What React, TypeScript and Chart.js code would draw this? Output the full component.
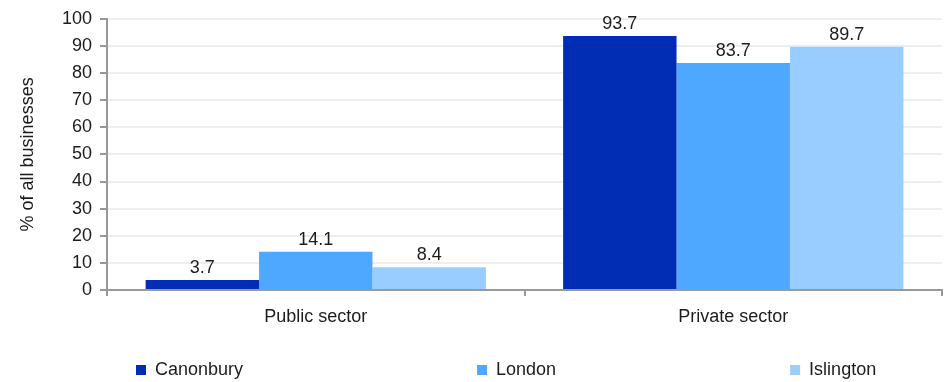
import React, { useEffect, useRef } from "react";
import { Chart, registerables } from "chart.js";

Chart.register(...registerables);

const categories = ["Public sector", "Private sector"];
const seriesNames = ["Canonbury", "London", "Islington"];
const canonbury = [3.7, 93.7];
const london = [14.1, 83.7];
const islington = [8.4, 89.7];
const seriesColors = ["#002DB3", "#4FA8FF", "#99CCFF"];
const yMax = 100;
const yStep = 10;
const yTitle = "% of all businesses";

const FONT = "'Liberation Sans', Arial, Helvetica, sans-serif";
const TEXT = "#1c1c1c";

const valueLabels = {
  id: "valueLabels",
  afterDatasetsDraw(chart: any) {
    const ctx = chart.ctx;
    ctx.save();
    ctx.font = `18px ${FONT}`;
    ctx.fillStyle = TEXT;
    ctx.textAlign = "center";
    ctx.textBaseline = "alphabetic";
    chart.data.datasets.forEach((ds: any, i: number) => {
      const meta = chart.getDatasetMeta(i);
      meta.data.forEach((el: any, j: number) => {
        ctx.fillText(Number(ds.data[j]).toFixed(1), el.x, el.y - 7);
      });
    });
    ctx.restore();
  },
};

const spreadLegend = {
  id: "spreadLegend",
  afterDraw(chart: any) {
    const ctx = chart.ctx;
    ctx.save();
    ctx.font = `18px ${FONT}`;
    ctx.textBaseline = "middle";
    ctx.textAlign = "left";
    let x = 136;
    const y = 370;
    chart.data.datasets.forEach((ds: any) => {
      ctx.fillStyle = ds.backgroundColor;
      ctx.fillRect(x, y - 5, 10, 10);
      ctx.fillStyle = TEXT;
      ctx.fillText(ds.label, x + 19, y);
      x += 19 + ctx.measureText(ds.label).width + 234;
    });
    ctx.restore();
  },
};

export default function App() {
  const ref = useRef<HTMLCanvasElement | null>(null);

  useEffect(() => {
    document.body.style.margin = "0";
    if (!ref.current) return;
    const seriesValues = [canonbury, london, islington];
    const chart = new Chart(ref.current, {
      type: "bar",
      data: {
        labels: categories,
        datasets: seriesNames.map((name, i) => ({
          label: name,
          data: seriesValues[i],
          backgroundColor: seriesColors[i],
          borderWidth: 0,
          categoryPercentage: 0.815,
          barPercentage: 1.0,
        })),
      },
      options: {
        animation: false,
        responsive: true,
        maintainAspectRatio: false,
        layout: { padding: { top: 14, right: 2, bottom: 42, left: 0 } },
        plugins: {
          legend: { display: false },
          tooltip: { enabled: false },
        },
        scales: {
          x: {
            grid: {
              drawOnChartArea: false,
              tickLength: 6,
              tickColor: "#999999",
              lineWidth: 2,
              offset: true,
            },
            border: { color: "#999999", width: 2 },
            ticks: {
              color: TEXT,
              font: { family: FONT, size: 18 },
              padding: 10,
            },
            afterFit(scale: any) {
              scale.height = 50;
            },
          },
          y: {
            min: 0,
            max: yMax,
            grid: {
              color: "#eeeeee",
              lineWidth: 2,
              tickLength: 7,
              tickColor: "#999999",
            },
            border: { color: "#999999", width: 2 },
            ticks: {
              stepSize: yStep,
              color: TEXT,
              font: { family: FONT, size: 18 },
              padding: 8,
            },
            title: {
              display: true,
              text: yTitle,
              color: TEXT,
              font: { family: FONT, size: 18 },
              padding: { top: 17, bottom: 0 },
            },
            afterFit(scale: any) {
              scale.width = 107;
            },
          },
        },
      },
      plugins: [valueLabels, spreadLegend],
    });
    return () => chart.destroy();
  }, []);

  return (
    <div style={{ position: "relative", width: 944, height: 382 }}>
      <canvas ref={ref} />
    </div>
  );
}
